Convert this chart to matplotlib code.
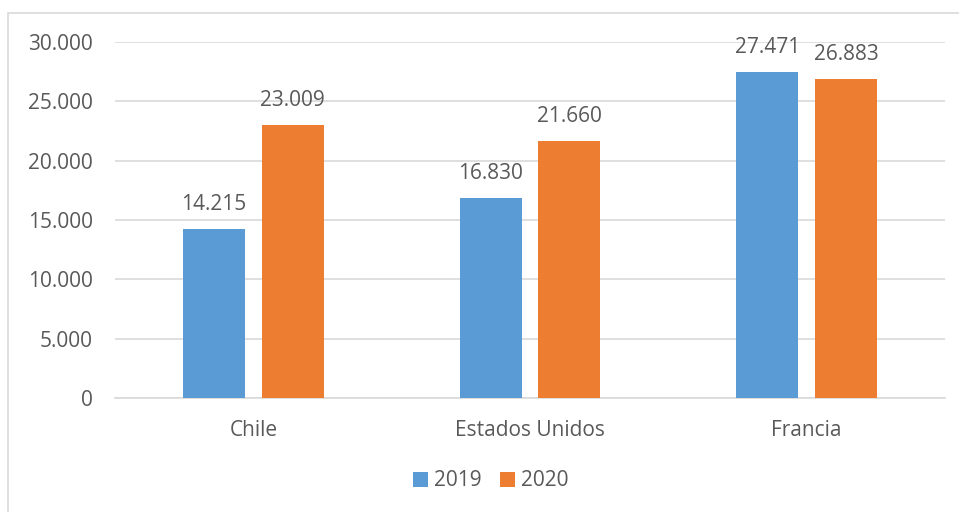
import numpy as np
import matplotlib.pyplot as plt
from matplotlib.patches import Rectangle

paises = ['Chile', 'Estados Unidos', 'Francia']
v2019 = [14215, 16830, 27471]
v2020 = [23009, 21660, 26883]
anios = ['2019', '2020']

azul = '#5b9bd5'
naranja = '#ed7d31'
gris_txt = '#595959'
gris_linea = '#d9d9d9'

plt.rcParams['font.family'] = ['Open Sans', 'DejaVu Sans']
fs = 15

fig = plt.figure(figsize=(9.59, 5.12), dpi=100)
# marco del grafico
fig.patches.append(Rectangle((8 / 959, -0.1), 1.2, 1 - 13 / 512 + 0.1,
                             transform=fig.transFigure, fill=False,
                             edgecolor=gris_linea, lw=1.2))

ax = fig.add_axes([115 / 959, 1 - 398 / 512, 830 / 959, 356 / 512])

x = np.arange(len(paises))
ancho = 0.224
desp = 0.1425

def fmt(v):
    return f'{v:,}'.replace(',', '.')

b1 = ax.bar(x - desp, v2019, ancho, color=azul, label=anios[0], zorder=3)
b2 = ax.bar(x + desp, v2020, ancho, color=naranja, label=anios[1], zorder=3)
for barras in (b1, b2):
    ax.bar_label(barras, labels=[fmt(b.get_height()) for b in barras],
                 padding=10, fontsize=fs, color=gris_txt)

ax.set_xlim(-0.5, 2.5)
ax.set_ylim(0, 30000)
ax.set_yticks(np.arange(0, 30001, 5000))
ax.set_yticklabels([fmt(v) for v in range(0, 30001, 5000)])
ax.set_xticks(x)
ax.set_xticklabels(paises)
ax.tick_params(axis='both', length=0, labelsize=fs, labelcolor=gris_txt)
ax.tick_params(axis='y', pad=16)
ax.tick_params(axis='x', pad=16)
ax.grid(axis='y', color=gris_linea, lw=1.2, zorder=0)
for s in ['top', 'right', 'left']:
    ax.spines[s].set_visible(False)
ax.spines['bottom'].set_color(gris_linea)
ax.spines['bottom'].set_linewidth(1.2)

fig.legend(loc='center', bbox_to_anchor=(491 / 959, 1 - 481 / 512), ncol=2,
           frameon=False, fontsize=fs, labelcolor=gris_txt,
           handlelength=0.7, handleheight=0.7, handletextpad=0.3,
           columnspacing=0.9)

fig.savefig('out.png', dpi=100)
